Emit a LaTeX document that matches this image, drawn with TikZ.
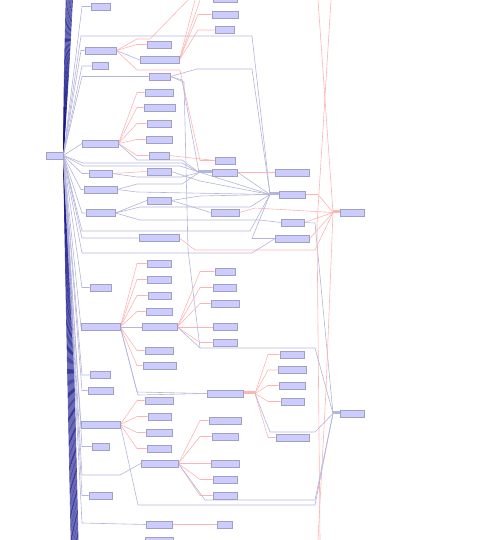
\documentclass[tikz,border=0pt]{standalone}
\usepackage{tikz}
\definecolor{boxfill}{HTML}{CCCCFF}
\definecolor{boxline}{HTML}{A0A0C0}
\definecolor{bedge}{HTML}{B4B4DC}
\definecolor{redge}{HTML}{FFB4B4}
\definecolor{navy}{HTML}{12128A}
\pgfdeclarelayer{edges}
\pgfsetlayers{edges,main}
\tikzset{
  box/.style={draw=boxline, fill=boxfill, line width=0.7pt, minimum height=7pt, inner sep=0pt},
  be/.style={draw=bedge, line width=0.6pt},
  re/.style={draw=redge, line width=0.6pt},
  ne/.style={draw=navy, line width=0.6pt, opacity=0.7}
}
\begin{document}
\begin{tikzpicture}[x=1pt,y=-1pt]
    \useasboundingbox (0,0) rectangle (502,540);
    \clip (0,0) rectangle (502,540);
    % Radice
    \node[box, minimum width=17pt] (root) at (54.5,155.5) {};
    % Colonna 1
    \node[box, minimum width=19pt] (a1) at (100.5,6.5) {};
    \node[box, minimum width=31pt] (a2) at (100.5,50.5) {};
    \node[box, minimum width=16pt] (a3) at (100,66) {};
    \node[box, minimum width=36pt] (a4) at (100,143.5) {};
    \node[box, minimum width=23pt] (a5) at (100.5,173.5) {};
    \node[box, minimum width=33pt] (a6) at (100.5,189.5) {};
    \node[box, minimum width=29pt] (a7) at (100.5,213) {};
    \node[box, minimum width=21pt] (a8) at (100.5,287.5) {};
    \node[box, minimum width=39pt] (a9) at (100.5,327) {};
    \node[box, minimum width=20pt] (a10) at (100,375) {};
    \node[box, minimum width=25pt] (a11) at (100.5,390.5) {};
    \node[box, minimum width=39pt] (a12) at (100.5,424.5) {};
    \node[box, minimum width=17pt] (a13) at (100.5,446.5) {};
    \node[box, minimum width=23pt] (a14) at (100.5,495.5) {};
    % Colonna 2
    \node[box, minimum width=24pt] (b1) at (159,44.5) {};
    \node[box, minimum width=39pt] (b2) at (159.5,60) {};
    \node[box, minimum width=21pt] (b3) at (159.5,76.5) {};
    \node[box, minimum width=28pt] (b4) at (159,92.5) {};
    \node[box, minimum width=31pt] (b5) at (159.5,107.5) {};
    \node[box, minimum width=24pt] (b6) at (159,123.5) {};
    \node[box, minimum width=26pt] (b7) at (159,139.5) {};
    \node[box, minimum width=20pt] (b8) at (159,155.5) {};
    \node[box, minimum width=24pt] (b9) at (159,171.5) {};
    \node[box, minimum width=24pt] (b10) at (159,200.5) {};
    \node[box, minimum width=40pt] (b11) at (159,238) {};
    \node[box, minimum width=24pt] (b12) at (159,263.5) {};
    \node[box, minimum width=24pt] (b13) at (159,279.5) {};
    \node[box, minimum width=23pt] (b14) at (159.5,295.5) {};
    \node[box, minimum width=26pt] (b15) at (159,311.5) {};
    \node[box, minimum width=35pt] (b16) at (159.5,327) {};
    \node[box, minimum width=28pt] (b17) at (159,350.5) {};
    \node[box, minimum width=33pt] (b18) at (159.5,365.5) {};
    \node[box, minimum width=28pt] (b19) at (159,400.5) {};
    \node[box, minimum width=23pt] (b20) at (159.5,416.5) {};
    \node[box, minimum width=26pt] (b21) at (159,432.5) {};
    \node[box, minimum width=24pt] (b22) at (159,448.5) {};
    \node[box, minimum width=37pt] (b23) at (159.5,463.5) {};
    \node[box, minimum width=26pt] (b24) at (159,524.5) {};
    \node[box, minimum width=28pt] (b25) at (159,540.5) {};
    % Colonna 3
    \node[box, minimum width=24pt] (c0) at (225,-1) {};
    \node[box, minimum width=26pt] (c1) at (225,14.5) {};
    \node[box, minimum width=19pt] (c2) at (224.5,30) {};
    \node[box, minimum width=20pt] (c3) at (225,160.5) {};
    \node[box, minimum width=25pt] (c4) at (225,172.5) {};
    \node[box, minimum width=28pt] (c5) at (225,212.5) {};
    \node[box, minimum width=20pt] (c6) at (225,271.5) {};
    \node[box, minimum width=23pt] (c7) at (224.5,287.5) {};
    \node[box, minimum width=28pt] (c8) at (225,303.5) {};
    \node[box, minimum width=24pt] (c9) at (225,327) {};
    \node[box, minimum width=24pt] (c10) at (225,342.5) {};
    \node[box, minimum width=36pt] (c11) at (225,393.5) {};
    \node[box, minimum width=32pt] (c12) at (225,420.5) {};
    \node[box, minimum width=26pt] (c13) at (225,436.5) {};
    \node[box, minimum width=28pt] (c14) at (225,463.5) {};
    \node[box, minimum width=24pt] (c15) at (225,479.5) {};
    \node[box, minimum width=24pt] (c16) at (225,495.5) {};
    \node[box, minimum width=15pt] (c17) at (225,524.5) {};
    % Colonna 4
    \node[box, minimum width=34pt] (d1) at (292.5,172.5) {};
    \node[box, minimum width=26pt] (d2) at (292,194.5) {};
    \node[box, minimum width=23pt] (d3) at (292.5,222.5) {};
    \node[box, minimum width=34pt] (d4) at (292.5,238.5) {};
    \node[box, minimum width=24pt] (d5) at (292,354.5) {};
    \node[box, minimum width=28pt] (d6) at (292,370) {};
    \node[box, minimum width=26pt] (d7) at (292,385.5) {};
    \node[box, minimum width=23pt] (d8) at (292.5,401.5) {};
    \node[box, minimum width=33pt] (d9) at (292.5,437.5) {};
    % Colonna 5
    \node[box, minimum width=24pt] (e1) at (352,212.5) {};
    \node[box, minimum width=24pt] (e2) at (352,413.5) {};
    % Porte
    \coordinate (c4p) at (199,172.5);
    \coordinate (d2p) at (270,194.5);
    \coordinate (c11p) at (255,393.5);
    \coordinate (e1p) at (333,212.5);
    \coordinate (e2p) at (333,413.5);
    % Estremi liberi
    \coordinate (t1) at (318,0);
    \coordinate (t2) at (331,0);
    \coordinate (t3) at (188,0);
    \coordinate (t4) at (195,0);
    \coordinate (t5) at (200,0);
    \coordinate (u1) at (320,540);
    \coordinate (u2) at (318,540);

    \begin{pgfonlayer}{edges}
    % Fascio
    \foreach \i in {0,...,11}
        \draw[ne] (root.east) .. controls (64+\i*0.4,80) .. (66+\i*0.6,0);
    \foreach \i in {0,...,13}
        \draw[ne] (root.east) .. controls (66+\i*0.5,300) .. (71+\i*0.55,540);
    % Radice - colonna 1
    \draw[be] (root.east) -- (82,6.5) -- (a1.west);
    \draw[be] (root.east) -- (81,50.5) -- (a2.west);
    \draw[be] (root.east) -- (82,66) -- (a3.west);
    \draw[be] (root.east) -- (82,143.5) -- (a4.west);
    \draw[be] (root.east) -- (82,173.5) -- (a5.west);
    \draw[be] (root.east) -- (81,189.5) -- (a6.west);
    \draw[be] (root.east) -- (82,213) -- (a7.west);
    \draw[be] (root.east) -- (82,287.5) -- (a8.west);
    \draw[be] (root.east) -- (81,327) -- (a9.west);
    \draw[be] (root.east) -- (82,375) -- (a10.west);
    \draw[be] (root.east) -- (82,390.5) -- (a11.west);
    \draw[be] (root.east) -- (81,424.5) -- (a12.west);
    \draw[be] (root.east) -- (82,446.5) -- (a13.west);
    \draw[be] (root.east) -- (82,495.5) -- (a14.west);
    % Radice - lunghe
    \draw[be] (root.east) -- (81,36) -- (252,36) -- (d2p);
    \draw[be] (root.east) -- (82,76.5) -- (b3.west);
    \draw[be] (root.east) -- (83,163) -- (182,163) -- (c4p);
    \draw[be] (root.east) -- (83,166) -- (180,166) -- (d2p);
    \draw[be] (root.east) -- (82,231) -- (250,231) -- (d2p);
    \draw[be] (root.east) -- (82,238) -- (b11.west);
    \draw[be] (root.east) -- (82,253) -- (252,253) -- (d4.west);
    \draw[be] (root.east) -- (82,475) -- (120,475) -- (b23.west);
    \draw[be] (root.east) -- (82,523) -- (b24.west);
    % Alto
    \draw[re] (a2.east) -- (137,44.5) -- (b1.west);
    \draw[re] (a2.east) -- (137,39) -- (150,39) -- (t3);
    \draw[be] (a2.east) -- (b2.west);
    \draw[re] (a2.east) -- (137,70) -- (180,70) -- (200,160.5) -- (c3.west);
    \draw[re] (b2.east) -- (198,14.5) -- (c1.west);
    \draw[re] (b2.east) -- (198,30) -- (c2.west);
    \draw[re] (b2.east) -- (t4);
    \draw[re] (b2.east) -- (t5);
    \draw[be] (b3.east) -- (197,69) -- (252,69) -- (d2p);
    \draw[be] (b3.east) -- (182,80) -- (c4p);
    \draw[be] (b3.east) -- (184,82) -- (188,250) -- (200,348);
    % Centro
    \draw[re] (a4.east) -- (137,92.5) -- (b4.west);
    \draw[re] (a4.east) -- (137,107.5) -- (b5.west);
    \draw[re] (a4.east) -- (137,123.5) -- (b6.west);
    \draw[re] (a4.east) -- (137,139.5) -- (b7.west);
    \draw[re] (a4.east) -- (137,155.5) -- (b8.west);
    \draw[be] (a4.east) -- (137,160) -- (182,160) -- (c4p);
    \draw[re] (b8.east) -- (c3.west);
    \draw[re] (a5.east) -- (b9.west);
    \draw[be] (a5.east) -- (137,177) -- (182,177) -- (c4p);
    \draw[be] (a6.east) -- (137,184) -- (182,184) -- (c4p);
    \draw[be] (a6.east) -- (137,192) -- (d2p);
    \draw[re] (c4.east) -- (d1.west);
    \draw[be] (c4.east) -- (d2p);
    \draw[be] (a7.east) -- (b10.west);
    \draw[be] (a7.east) -- (140,207) -- (250,207) -- (d2p);
    \draw[be] (a7.east) -- (140,220) -- (260,220) -- (d3.west);
    \draw[be] (b9.east) -- (200,181) -- (d2p);
    \draw[be] (b10.east) -- (200,196) -- (d2p);
    \draw[be] (b10.east) -- (c5.west);
    \draw[re] (c5.east) -- (255,208) -- (e1p);
    \draw[be] (d2p) -- (252,238.5) -- (d4.west);
    \draw[re] (b11.east) -- (195,250) -- (315,250) -- (e1p);
    \draw[re] (d2.east) -- (318,194.5) -- (e1p);
    \draw[re] (d3.east) -- (e1p);
    \draw[re] (d4.east) -- (e1p);
    \draw[be] (d3.east) -- (315,223) -- (e2p);
    % Destra
    \draw[re] (t1) -- (e1p);
    \draw[re] (t2) -- (317,225) -- (u1);
    \draw[re] (e1p) -- (326,390) -- (u2);
    % Basso
    \draw[re] (a9.east) -- (137,263.5) -- (b12.west);
    \draw[re] (a9.east) -- (137,279.5) -- (b13.west);
    \draw[re] (a9.east) -- (137,295.5) -- (b14.west);
    \draw[re] (a9.east) -- (137,311.5) -- (b15.west);
    \draw[be] (a9.east) -- (b16.west);
    \draw[re] (a9.east) -- (137,350.5) -- (b17.west);
    \draw[re] (a9.east) -- (137,365.5) -- (b18.west);
    \draw[be] (a9.east) -- (137,392) -- (c11.west);
    \draw[be] (a9.east) -- (138,395) -- (c11.west);
    \draw[re] (b16.east) -- (200,271.5) -- (c6.west);
    \draw[re] (b16.east) -- (200,287.5) -- (c7.west);
    \draw[re] (b16.east) -- (200,303.5) -- (c8.west);
    \draw[re] (b16.east) -- (c9.west);
    \draw[re] (b16.east) -- (200,342.5) -- (c10.west);
    \draw[be] (b16.east) -- (200,348) -- (315,348) -- (e2p);
    \draw[re] (c11.east) -- (c11p);
    \draw[re] (c11p) -- (268,354.5) -- (d5.west);
    \draw[re] (c11p) -- (268,370) -- (d6.west);
    \draw[re] (c11p) -- (268,385.5) -- (d7.west);
    \draw[re] (c11p) -- (268,401.5) -- (d8.west);
    \draw[re] (c11p) -- (268,437.5) -- (d9.west);
    \draw[be] (c11p) -- (270,432) -- (315,432) -- (e2p);
    \draw[re] (a12.east) -- (137,400.5) -- (b19.west);
    \draw[re] (a12.east) -- (137,416.5) -- (b20.west);
    \draw[re] (a12.east) -- (137,432.5) -- (b21.west);
    \draw[re] (a12.east) -- (137,448.5) -- (b22.west);
    \draw[be] (a12.east) -- (138,505) -- (315,505) -- (e2p);
    \draw[re] (b23.east) -- (200,420.5) -- (c12.west);
    \draw[re] (b23.east) -- (200,436.5) -- (c13.west);
    \draw[re] (b23.east) -- (c14.west);
    \draw[re] (b23.east) -- (200,479.5) -- (c15.west);
    \draw[re] (b23.east) -- (200,495.5) -- (c16.west);
    \draw[be] (b23.east) -- (205,500) -- (315,500) -- (e2p);
    \draw[re] (b24.east) -- (c17.west);
    % Porte
    \fill[bedge] (198,170) rectangle (c4.west);
    \fill[bedge] (270,191.5) rectangle (d2.west);
    \fill[redge] (333,209.5) rectangle (e1.west);
    \fill[bedge] (333,410.5) rectangle (e2.west);
    \fill[redge] (243,391) rectangle (c11p);
    \end{pgfonlayer}
\end{tikzpicture}
\end{document}
